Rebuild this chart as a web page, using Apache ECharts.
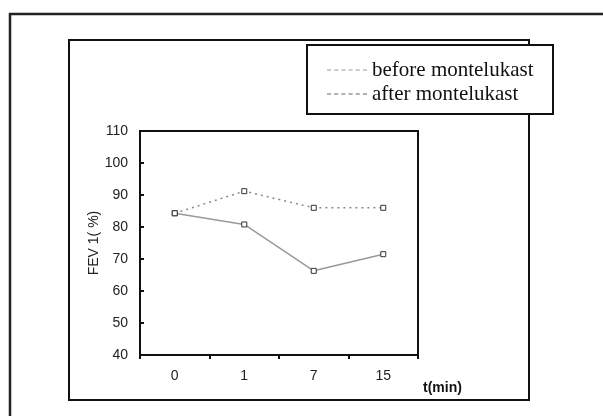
<!DOCTYPE html>
<html>
<head>
<meta charset="utf-8">
<script src="https://cdn.jsdelivr.net/npm/echarts@6/dist/echarts.min.js"></script>
<style>
  html, body { margin: 0; padding: 0; background: #fff; }
  #myChart { width: 603px; height: 416px; }
</style>
</head>
<body>
<div id="myChart"></div>
<script>
  // x categories (minutes)
  const timePoints = ['0', '1', '7', '15'];
  // FEV1 (%) values
  const beforeMontelukast = [84.3, 91.2, 86.0, 86.0];
  const afterMontelukast = [84.3, 80.8, 66.3, 71.5];
  const yTicks = { min: 40, max: 110, step: 10 };

  const seriesNames = ['before montelukast', 'after montelukast'];
  const dashIcon = 'path://M0,0h4v1h-4zM7,0h4v1h-4zM14,0h4v1h-4zM21,0h4v1h-4zM28,0h4v1h-4zM35,0h4v1h-4z';

  let myChart = echarts.init(document.getElementById('myChart'));

  const marker = {
    symbol: 'rect',
    symbolSize: 5,
    itemStyle: { color: '#fff', borderColor: '#333', borderWidth: 1 }
  };

  myChart.setOption({
    animation: false,
    backgroundColor: '#fff',
    graphic: [
      // outer frame
      { type: 'rect', z: 0, shape: { x: 10, y: 14, width: 700, height: 500 },
        style: { fill: 'none', stroke: '#222', lineWidth: 2.5 } },
      // inner frame
      { type: 'rect', z: 0, shape: { x: 69, y: 40, width: 460, height: 360 },
        style: { fill: 'none', stroke: '#111', lineWidth: 2 } },
      // legend box (covers the inner frame line)
      { type: 'rect', z: 10, shape: { x: 307, y: 45, width: 246, height: 69 },
        style: { fill: '#fff', stroke: '#111', lineWidth: 2 } }
    ],
    legend: {
      z: 20,
      orient: 'vertical',
      left: 322,
      top: 53,
      itemGap: 0,
      itemWidth: 40,
      itemHeight: 2,
      icon: dashIcon,
      textStyle: { fontFamily: 'Liberation Serif', fontSize: 21, color: '#111', lineHeight: 24 },
      data: [
        { name: seriesNames[0], itemStyle: { color: '#999', borderWidth: 0 } },
        { name: seriesNames[1], itemStyle: { color: '#666', borderWidth: 0 } }
      ]
    },
    grid: {
      left: 140, top: 131, width: 278, height: 224,
      show: true, borderColor: '#111', borderWidth: 2, backgroundColor: 'transparent'
    },
    xAxis: {
      type: 'category',
      data: timePoints,
      boundaryGap: true,
      name: 't(min)',
      nameLocation: 'end',
      nameGap: 5,
      nameTextStyle: {
        fontFamily: 'Liberation Sans', fontSize: 14, fontWeight: 'bold', color: '#111',
        verticalAlign: 'top', align: 'left', padding: [26, 0, 0, 0]
      },
      axisLine: { lineStyle: { color: '#111', width: 2 } },
      axisTick: { show: true, inside: false, length: 4, lineStyle: { color: '#111', width: 2 } },
      axisLabel: { fontFamily: 'Liberation Sans', fontSize: 14, color: '#222', margin: 14 },
      splitLine: { show: false }
    },
    yAxis: {
      type: 'value',
      min: yTicks.min,
      max: yTicks.max,
      interval: yTicks.step,
      name: 'FEV 1( %)',
      nameLocation: 'middle',
      nameGap: 38,
      nameTextStyle: { fontFamily: 'Liberation Sans', fontSize: 14, color: '#222' },
      axisLine: { show: true, lineStyle: { color: '#111', width: 2 } },
      axisTick: { show: true, inside: true, length: 4, lineStyle: { color: '#111', width: 2 } },
      axisLabel: { fontFamily: 'Liberation Sans', fontSize: 14, color: '#222', margin: 12 },
      splitLine: { show: false }
    },
    series: [
      Object.assign({
        name: seriesNames[0],
        type: 'line',
        data: beforeMontelukast,
        lineStyle: { color: '#888', width: 1.5, type: [2, 4] }
      }, marker),
      Object.assign({
        name: seriesNames[1],
        type: 'line',
        data: afterMontelukast,
        lineStyle: { color: '#999', width: 1.5, type: 'solid' }
      }, marker)
    ]
  });
</script>
</body>
</html>
